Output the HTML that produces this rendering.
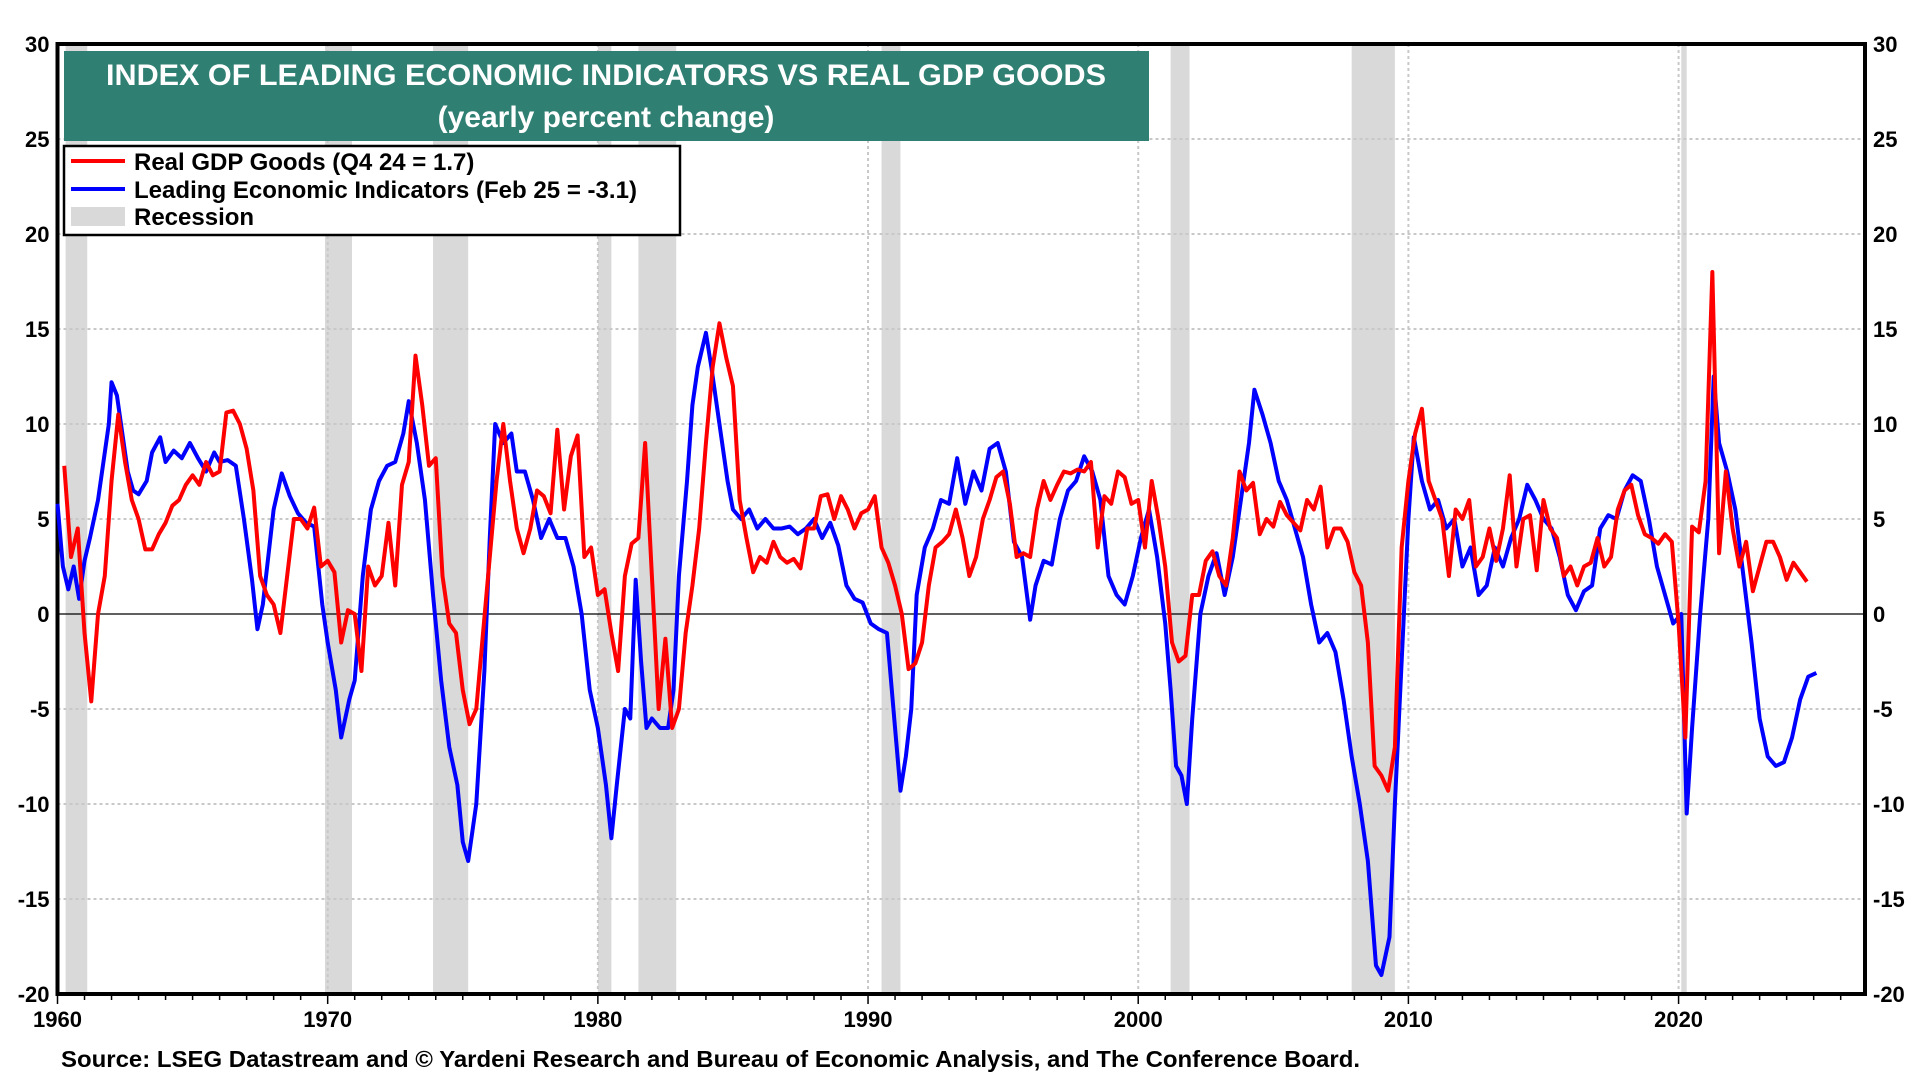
<!DOCTYPE html>
<html><head><meta charset="utf-8"><style>
html,body{margin:0;padding:0;background:#fff;}
svg{display:block;font-family:"Liberation Sans",Arial,sans-serif;font-weight:bold;}
</style></head><body>
<svg id="chart" width="1920" height="1080" viewBox="0 0 1920 1080">
<g id="rec"></g>
<g id="grid"></g>
<g id="axes"></g>
<g id="series"></g>
<g>
<rect x="64" y="51" width="1085" height="90" fill="#2f7f72"/>
<text x="606" y="85" fill="#fff" font-size="30" text-anchor="middle" textLength="1000" lengthAdjust="spacingAndGlyphs">INDEX OF LEADING ECONOMIC INDICATORS VS REAL GDP GOODS</text>
<text x="606" y="127" fill="#fff" font-size="30" text-anchor="middle">(yearly percent change)</text>
</g>
<g>
<rect x="64" y="146" width="616" height="89" fill="#fff" stroke="#000" stroke-width="2.5"/>
<g><line x1="71" y1="161" x2="125" y2="161" stroke="#f00" stroke-width="4"/><text x="134" y="170" font-size="24">Real GDP Goods (Q4 24 = 1.7)</text></g>
<g><line x1="71" y1="189" x2="125" y2="189" stroke="#00f" stroke-width="4"/><text x="134" y="198" font-size="24" textLength="503" lengthAdjust="spacingAndGlyphs">Leading Economic Indicators (Feb 25 = -3.1)</text></g>
<g><rect x="71" y="207" width="54" height="19" fill="#d9d9d9"/><text x="134" y="225" font-size="24">Recession</text></g>
</g>
<text x="61" y="1067" font-size="23" textLength="1299" lengthAdjust="spacingAndGlyphs">Source: LSEG Datastream and © Yardeni Research and Bureau of Economic Analysis, and The Conference Board.</text>
</svg>
<script>
const recStart=[1960.3,1969.9,1973.9,1980.0,1981.5,1990.5,2001.2,2007.9,2020.1];
const recEnd=[1961.1,1970.9,1975.2,1980.5,1982.9,1991.2,2001.9,2009.5,2020.3];
const yTicks=[30,25,20,15,10,5,0,-5,-10,-15,-20];
const xTicks=[1960,1970,1980,1990,2000,2010,2020];
const gdpStart=1960.25;
const gdpValues=[7.8,3,4.5,-1,-4.6,0,2,7,10.5,8,6,5,3.4,3.4,4.2,4.8,5.7,6,6.8,7.3,6.8,8,7.3,7.5,10.6,10.7,10,8.7,6.5,2,1,0.5,-1,2,5,5,4.5,5.6,2.5,2.8,2.2,-1.5,0.2,0,-3,2.5,1.5,2,4.8,1.5,6.8,8,13.6,11,7.8,8.2,2,-0.5,-1,-4,-5.8,-5,-1,3,7,10,7,4.5,3.2,4.5,6.5,6.2,5.3,9.7,5.5,8.3,9.4,3,3.5,1,1.3,-1,-3,2,3.7,4,9,2,-5,-1.3,-6,-5,-1,1.5,4.5,9,13,15.3,13.5,12,6,4,2.2,3,2.7,3.8,3,2.7,2.9,2.4,4.5,4.5,6.2,6.3,5,6.2,5.5,4.5,5.3,5.5,6.2,3.5,2.7,1.5,0,-2.9,-2.6,-1.5,1.5,3.5,3.8,4.2,5.5,4,2,3,5,6,7.2,7.5,5.8,3,3.2,3,5.5,7,6,6.8,7.5,7.4,7.6,7.5,8,3.5,6.2,5.8,7.5,7.2,5.8,6,3.5,7,5,2.5,-1.5,-2.5,-2.2,1,1,2.8,3.3,2,1.5,4,7.5,6.5,6.9,4.2,5,4.6,5.9,5.2,4.8,4.4,6,5.5,6.7,3.5,4.5,4.5,3.8,2.2,1.5,-1.5,-8,-8.5,-9.3,-7,3.5,7,9.5,10.8,7,6,5,2,5.5,5,6,2.5,3,4.5,2.8,4.5,7.3,2.5,5,5.2,2.3,6,4.5,4,2,2.5,1.5,2.5,2.7,4,2.5,3,5.5,6.5,6.8,5.2,4.2,4,3.7,4.2,3.8,-0.5,-6.5,4.6,4.3,7,18,3.2,7.5,4.5,2.5,3.8,1.2,2.5,3.8,3.8,3,1.8,2.7,2.2,1.7];
const leiYears=[1960.0,1960.2,1960.4,1960.6,1960.8,1961.0,1961.2,1961.5,1961.7,1961.9,1962.0,1962.2,1962.4,1962.6,1962.8,1963.0,1963.3,1963.5,1963.8,1964.0,1964.3,1964.6,1964.9,1965.2,1965.5,1965.8,1966.0,1966.3,1966.6,1966.9,1967.2,1967.4,1967.6,1967.8,1968.0,1968.3,1968.6,1968.9,1969.2,1969.5,1969.8,1970.0,1970.3,1970.5,1970.8,1971.0,1971.3,1971.6,1971.9,1972.2,1972.5,1972.8,1973.0,1973.3,1973.6,1973.9,1974.2,1974.5,1974.8,1975.0,1975.2,1975.5,1975.8,1976.0,1976.2,1976.5,1976.8,1977.0,1977.3,1977.6,1977.9,1978.2,1978.5,1978.8,1979.1,1979.4,1979.7,1980.0,1980.3,1980.5,1980.7,1981.0,1981.2,1981.4,1981.6,1981.8,1982.0,1982.3,1982.6,1982.8,1983.0,1983.3,1983.5,1983.7,1984.0,1984.2,1984.5,1984.8,1985.0,1985.3,1985.6,1985.9,1986.2,1986.5,1986.8,1987.1,1987.4,1987.7,1988.0,1988.3,1988.6,1988.9,1989.2,1989.5,1989.8,1990.1,1990.4,1990.7,1991.0,1991.2,1991.4,1991.6,1991.8,1992.1,1992.4,1992.7,1993.0,1993.3,1993.6,1993.9,1994.2,1994.5,1994.8,1995.1,1995.4,1995.7,1996.0,1996.2,1996.5,1996.8,1997.1,1997.4,1997.7,1998.0,1998.3,1998.6,1998.9,1999.2,1999.5,1999.8,2000.1,2000.4,2000.7,2001.0,2001.2,2001.4,2001.6,2001.8,2002.0,2002.3,2002.6,2002.9,2003.2,2003.5,2003.8,2004.1,2004.3,2004.6,2004.9,2005.2,2005.5,2005.8,2006.1,2006.4,2006.7,2007.0,2007.3,2007.6,2007.9,2008.2,2008.5,2008.8,2009.0,2009.3,2009.5,2009.8,2010.0,2010.2,2010.5,2010.8,2011.1,2011.4,2011.7,2012.0,2012.3,2012.6,2012.9,2013.2,2013.5,2013.8,2014.1,2014.4,2014.7,2015.0,2015.3,2015.6,2015.9,2016.2,2016.5,2016.8,2017.1,2017.4,2017.7,2018.0,2018.3,2018.6,2018.9,2019.2,2019.5,2019.8,2020.1,2020.3,2020.5,2020.8,2021.1,2021.3,2021.5,2021.8,2022.1,2022.4,2022.7,2023.0,2023.3,2023.6,2023.9,2024.2,2024.5,2024.8,2025.1];
const leiValues=[5.8,2.5,1.3,2.5,0.8,2.8,4,6,8,10,12.2,11.5,9.5,7.5,6.5,6.3,7,8.5,9.3,8,8.6,8.2,9,8.2,7.5,8.5,8,8.1,7.8,5,1.8,-0.8,0.5,3,5.5,7.4,6.2,5.3,4.8,4.6,0.5,-1.5,-4,-6.5,-4.5,-3.5,2,5.5,7,7.8,8,9.5,11.2,9,6,1,-3.5,-7,-9,-12,-13,-10,-3,4,10,9,9.5,7.5,7.5,6,4,5,4,4,2.5,0,-4,-6,-9,-11.8,-9,-5,-5.5,1.8,-2.5,-6,-5.5,-6,-6,-4,2,7,11,13,14.8,13,10,7,5.5,5,5.5,4.5,5,4.5,4.5,4.6,4.2,4.5,5,4,4.8,3.6,1.5,0.8,0.6,-0.5,-0.8,-1,-6,-9.3,-7.5,-5,1,3.5,4.5,6,5.8,8.2,5.8,7.5,6.5,8.7,9,7.5,3.8,3,-0.3,1.5,2.8,2.6,5,6.5,7,8.3,7.5,6,2,1,0.5,2,4,5.5,3,-0.5,-4,-8,-8.5,-10,-5.5,0,2,3.2,1,3,6,9,11.8,10.5,9,7,6,4.5,3,0.5,-1.5,-1,-2,-4.5,-7.5,-10,-13,-18.5,-19,-17,-10,-1,5,9.3,7,5.5,6,4.5,5,2.5,3.5,1,1.5,3.5,2.5,4,5,6.8,6,5,4.5,3,1,0.2,1.2,1.5,4.5,5.2,5,6.5,7.3,7,5,2.5,1,-0.5,0,-10.5,-6,0,5,12.5,9,7.5,5.5,2,-1.5,-5.5,-7.5,-8,-7.8,-6.5,-4.5,-3.3,-3.1];

const L=57.5,R=1865,T=44,B=994,X0=1960,X1=2026.9,Y0=-20,Y1=30;
const sx=v=>L+(v-X0)/(X1-X0)*(R-L);
const sy=v=>B-(v-Y0)/(Y1-Y0)*(B-T);
const NS='http://www.w3.org/2000/svg';
function mk(p,tag,at){const e=document.createElementNS(NS,tag);for(const k in at)e.setAttribute(k,at[k]);p.appendChild(e);return e;}
const rec=document.getElementById('rec'),grid=document.getElementById('grid'),axes=document.getElementById('axes'),series=document.getElementById('series');
recStart.forEach((s,i)=>{const r=mk(rec,'rect',{x:sx(s),y:T,width:sx(recEnd[i])-sx(s),height:B-T,fill:'#d9d9d9'});

});
yTicks.forEach(v=>{
 if(v!==30&&v!==-20&&v!==0){const g=mk(grid,'line',{x1:L,x2:R,y1:sy(v),y2:sy(v),stroke:'#c8c8c8','stroke-width':2,'stroke-dasharray':'3,3'});
 
 }
 const t1=mk(axes,'text',{x:L-8,y:sy(v)+8,'font-size':22,'text-anchor':'end'});t1.textContent=v;
 
 
 const t2=mk(axes,'text',{x:R+8,y:sy(v)+8,'font-size':22,'text-anchor':'start'});t2.textContent=v;
 
 
});
xTicks.forEach(v=>{
 if(v!==1960){const g=mk(grid,'line',{x1:sx(v),x2:sx(v),y1:T,y2:B,stroke:'#c8c8c8','stroke-width':2,'stroke-dasharray':'3,3'});
 
 }
 const t=mk(axes,'text',{x:sx(v),y:B+33,'font-size':22,'text-anchor':'middle'});t.textContent=v;
 
 
});
for(let y=1960;y<=2026;y++){mk(axes,'line',{x1:sx(y),x2:sx(y),y1:B,y2:B+(y%10===0?10:6),stroke:'#000','stroke-width':1.5});}
const z=mk(axes,'line',{x1:L,x2:R,y1:sy(0),y2:sy(0),stroke:'#000','stroke-width':1.2});


const fr=mk(axes,'rect',{x:L,y:T,width:R-L,height:B-T,fill:'none',stroke:'#000','stroke-width':4});


const lp=mk(series,'polyline',{points:leiValues.map((v,i)=>sx(leiYears[i])+','+sy(v)).join(' '),fill:'none',stroke:'#0000ff','stroke-width':4,'stroke-linejoin':'round'});


const gp=mk(series,'polyline',{points:gdpValues.map((v,i)=>sx(gdpStart+i*0.25)+','+sy(v)).join(' '),fill:'none',stroke:'#ff0000','stroke-width':4,'stroke-linejoin':'round'});


</script>
</body></html>
